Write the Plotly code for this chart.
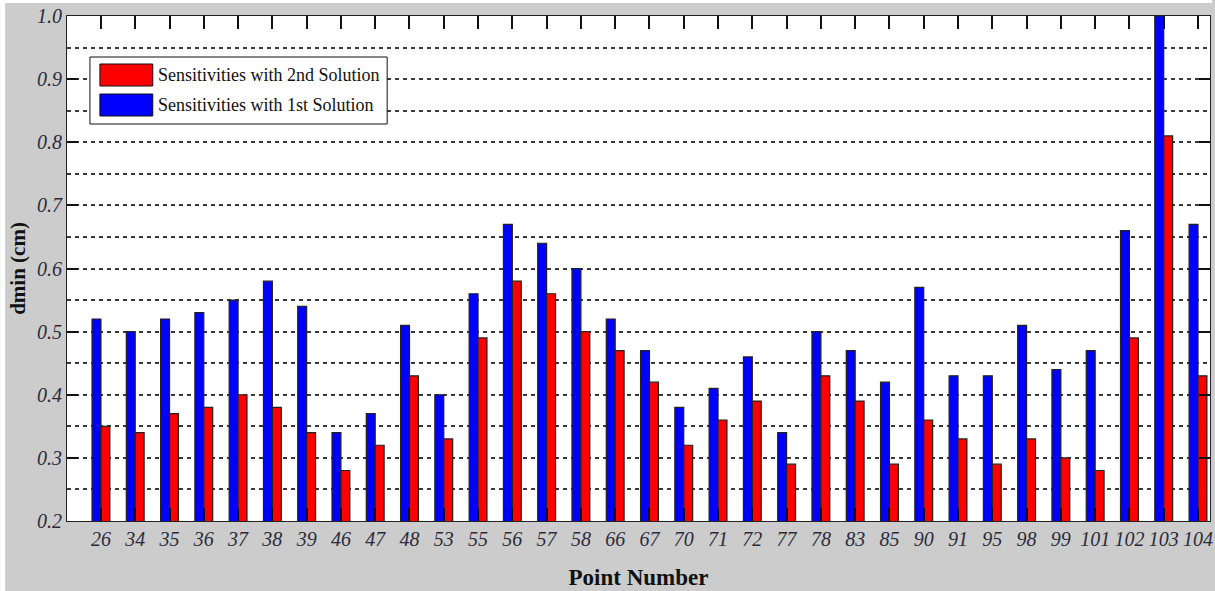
import plotly.graph_objects as go

points = ["26", "34", "35", "36", "37", "38", "39", "46", "47", "48", "53", "55", "56", "57",
          "58", "66", "67", "70", "71", "72", "77", "78", "83", "85", "90", "91", "95", "98",
          "99", "101", "102", "103", "104"]
first_solution = [0.52, 0.50, 0.52, 0.53, 0.55, 0.58, 0.54, 0.34, 0.37, 0.51, 0.40, 0.56, 0.67, 0.64,
                  0.60, 0.52, 0.47, 0.38, 0.41, 0.46, 0.34, 0.50, 0.47, 0.42, 0.57, 0.43, 0.43, 0.51,
                  0.44, 0.47, 0.66, 1.00, 0.67]
second_solution = [0.35, 0.34, 0.37, 0.38, 0.40, 0.38, 0.34, 0.28, 0.32, 0.43, 0.33, 0.49, 0.58, 0.56,
                   0.50, 0.47, 0.42, 0.32, 0.36, 0.39, 0.29, 0.43, 0.39, 0.29, 0.36, 0.33, 0.29, 0.33,
                   0.30, 0.28, 0.49, 0.81, 0.43]
legend_labels = ["Sensitivities with 2nd Solution", "Sensitivities with 1st Solution"]
legend_colors = ["#ff0000", "#0000ff"]

W, H = 1215, 591
L, R, T, B = 67, 1213, 16, 521
PW, PH = R - L, B - T


def px(x):
    return (x - L) / PW


def py(y):
    return (B - y) / PH


SERIF = "Liberation Serif, Times New Roman, serif"
GRID = "#3a3a3a"

fig = go.Figure()
fig.add_trace(go.Bar(x=points, y=first_solution, name=legend_labels[1],
                     marker=dict(color="#0000ff", line=dict(color="#222222", width=1.2)),
                     showlegend=False))
fig.add_trace(go.Bar(x=points, y=second_solution, name=legend_labels[0],
                     marker=dict(color="#ff0000", line=dict(color="#222222", width=1.2)),
                     showlegend=False))

shapes = [
    # white strips at the screenshot edge
    dict(type="rect", xref="paper", yref="paper", x0=px(0), x1=px(5), y0=py(H), y1=py(0),
         fillcolor="white", line=dict(width=0), layer="below"),
    dict(type="rect", xref="paper", yref="paper", x0=px(0), x1=px(W), y0=py(3), y1=py(0),
         fillcolor="white", line=dict(width=0), layer="below"),
    # legend box
    dict(type="rect", xref="paper", yref="paper", x0=px(90), x1=px(388), y0=py(124), y1=py(57),
         fillcolor="white", line=dict(color="#111111", width=1), layer="above"),
]
annotations = []
for i, (lab, col) in enumerate(zip(legend_labels, legend_colors)):
    yc = 75 + i * 30
    shapes.append(dict(type="rect", xref="paper", yref="paper", x0=px(100), x1=px(153),
                       y0=py(yc + 11), y1=py(yc - 11), fillcolor=col,
                       line=dict(color="#111111", width=1), layer="above"))
    annotations.append(dict(xref="paper", yref="paper", x=px(156), y=py(yc), text=lab,
                            showarrow=False, xanchor="left", yanchor="middle",
                            font=dict(family=SERIF, size=18, color="#111111")))

fig.update_layout(
    width=W, height=H,
    margin=dict(l=L, r=W - R, t=T, b=H - B),
    paper_bgcolor="#cccccc", plot_bgcolor="white",
    barmode="group", bargap=0.48, bargroupgap=0,
    shapes=shapes, annotations=annotations,
    showlegend=False,
    xaxis=dict(
        type="category", range=[-0.99, 32.35],
        showline=True, linecolor="#222222", linewidth=1.2, mirror="ticks",
        ticks="inside", ticklen=13, tickcolor="#111111", tickwidth=1.6,
        showgrid=False, zeroline=False,
        tickfont=dict(family=SERIF, size=20, color="#2b2b3b", style="italic"),
        title=dict(text="Point Number", standoff=19,
                   font=dict(family=SERIF, size=23, color="#111111", weight="bold")),
    ),
    yaxis=dict(
        range=[0.2, 1.0], tick0=0.2, dtick=0.1, tickformat=".1f",
        showline=True, linecolor="#222222", linewidth=1.2, mirror="ticks",
        ticks="inside", ticklen=11, tickcolor="#111111", tickwidth=1.6,
        showgrid=True, gridcolor=GRID, griddash="4px,4px", gridwidth=1.6,
        zeroline=False,
        minor=dict(tick0=0.2, dtick=0.05, showgrid=True, gridcolor=GRID,
                   griddash="4px,4px", gridwidth=1.6, ticks=""),
        tickfont=dict(family=SERIF, size=20, color="#2b2b3b", style="italic"),
        title=dict(text="dmin (cm)", standoff=5,
                   font=dict(family=SERIF, size=21, color="#111111", weight="bold")),
    ),
)

fig.write_html("out.html", config={"displayModeBar": False},
               post_script="document.body.style.margin='0';document.body.style.overflow='hidden';")
